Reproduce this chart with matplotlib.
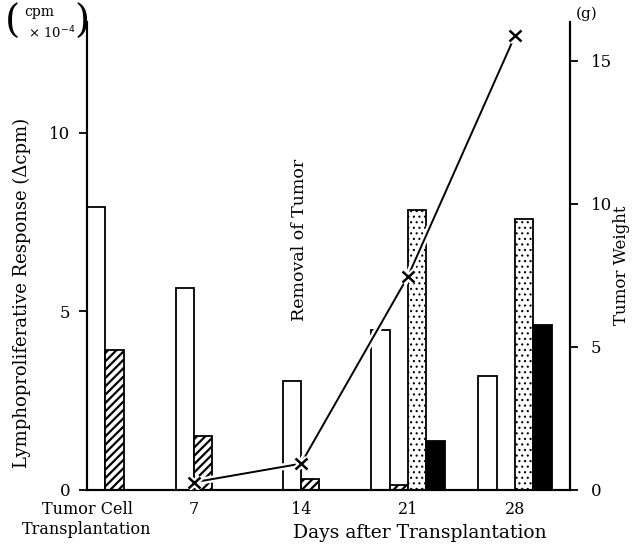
import numpy as np
import matplotlib.pyplot as plt
import matplotlib.patheffects as pe

plt.rcParams['font.family'] = ['DejaVu Serif']
plt.rcParams['hatch.linewidth'] = 1.6

days = [0, 7, 14, 21, 28]
tick_labels = ['Tumor Cell\nTransplantation', '7', '14', '21', '28']

# lymphoproliferative response, cpm x 10^-4
open_bars = [7.93, 5.66, 3.05, 4.48, 3.20]
hatched_bars = [3.92, 1.51, 0.30, 0.15, 0.0]
dotted_bars = [0.0, 0.0, 0.0, 7.84, 7.59]
black_bars = [0.0, 0.0, 0.0, 1.37, 4.62]

# tumor weight (g)
weight_days = [7, 14, 21, 28]
tumor_weight = [0.27, 0.92, 7.47, 15.88]


def main():
    fig = plt.figure(figsize=(6.4, 5.48), dpi=100)
    ax = fig.add_axes([87 / 640, 1 - 490 / 548, (570 - 87) / 640, (490 - 22) / 548])
    ax2 = ax.twinx()

    w = 1.2
    n_before = [0, 1, 1, 2, 2]  # slots left of the tick for each group
    x0 = np.array(days) - np.array(n_before) * w
    x0 = np.maximum(x0, 0)

    kw = dict(width=w, align='edge', edgecolor='black', linewidth=1.3)
    ax.bar(x0, open_bars, facecolor='white', **kw)
    ax.bar(x0 + w, hatched_bars, facecolor='white', hatch='////', **kw)
    plt.rcParams['hatch.linewidth'] = 0.8
    ax.bar(x0 + 2 * w, dotted_bars, facecolor='white', hatch='...', **kw)
    ax.bar(x0 + 3 * w, black_bars, facecolor='black', **kw)

    halo = [pe.Stroke(linewidth=5, foreground='white'), pe.Normal()]
    ax2.plot(weight_days, tumor_weight, color='black', lw=1.4, path_effects=halo, zorder=5)
    ax2.plot(weight_days, tumor_weight, ls='none', marker='x', ms=8, mew=1.8,
             color='black', path_effects=halo, zorder=6)

    ax.set_xlim(0, 31.6)
    ax.set_ylim(0, 13.1)
    ax2.set_ylim(0, 16.36)

    ax.set_xticks(days)
    ax.set_xticklabels(tick_labels, fontsize=11.5, linespacing=1.2)
    ax.get_xticklabels()[0].set_x(-0.45)
    ax.tick_params(axis='x', length=0, pad=8)
    ax.set_yticks([0, 5, 10])
    ax.tick_params(axis='y', direction='out', length=6, width=1.3, labelsize=12, pad=6)
    ax2.set_yticks([0, 5, 10, 15])
    ax2.tick_params(axis='y', direction='out', length=6, width=1.3, labelsize=12, pad=9)

    for a in (ax, ax2):
        a.spines['top'].set_visible(False)
        for s in a.spines.values():
            s.set_linewidth(1.5)

    fig.text(420 / 640, 1 - 533 / 548, 'Days after Transplantation', fontsize=13.5,
             ha='center', va='center')
    fig.text(22 / 640, 1 - 293 / 548, 'Lymphoproliferative Response (Δcpm)', fontsize=13,
             rotation=90, ha='center', va='center')
    fig.text(622 / 640, 1 - 265 / 548, 'Tumor Weight', fontsize=12,
             rotation=90, ha='center', va='center')
    fig.text(587 / 640, 1 - 14 / 548, '(g)', fontsize=11, ha='center', va='center')
    fig.text(300 / 640, 1 - 240 / 548, 'Removal of Tumor', fontsize=12.5,
             rotation=90, ha='center', va='center')

    # unit label in large brackets
    fig.text(13 / 640, 1 - 22 / 548, '(', fontsize=28, ha='center', va='center')
    fig.text(82 / 640, 1 - 22 / 548, ')', fontsize=28, ha='center', va='center')
    fig.text(24 / 640, 1 - 12 / 548, 'cpm', fontsize=10, ha='left', va='center')
    fig.text(28 / 640, 1 - 33 / 548, '× 10$^{-4}$', fontsize=9.5, ha='left', va='center')

    fig.savefig('out.png', dpi=100)


if __name__ == "__main__":
    main()
